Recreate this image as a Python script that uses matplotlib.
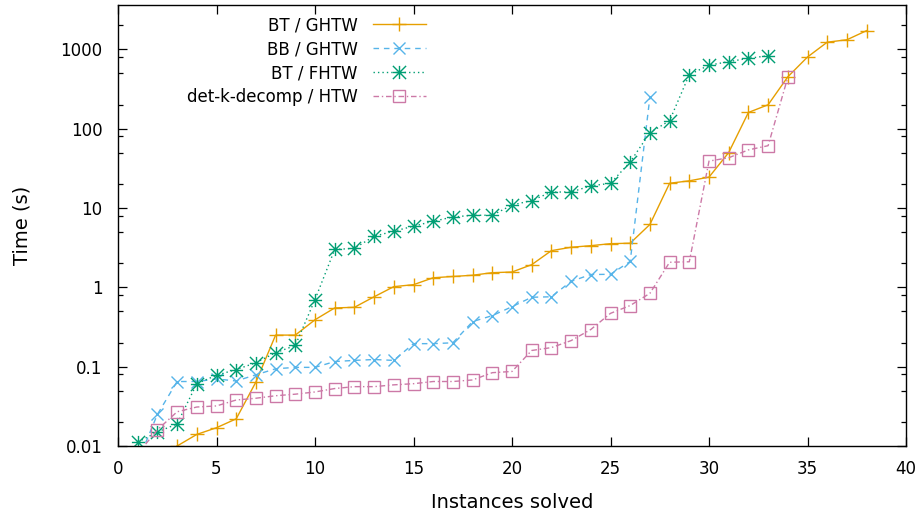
import matplotlib
matplotlib.use("Agg")
import matplotlib.pyplot as plt
from matplotlib.path import Path
from matplotlib.ticker import FixedLocator, LogLocator, NullFormatter, NullLocator

# ---------------- data ----------------
bt_ghtw_x = list(range(3, 39))
bt_ghtw_y = [0.010, 0.014, 0.017, 0.022, 0.064, 0.25, 0.25, 0.39, 0.55, 0.56,
             0.76, 1.02, 1.08, 1.32, 1.37, 1.42, 1.53, 1.56, 1.93, 2.9,
             3.2, 3.35, 3.55, 3.6, 6.2, 20.5, 22, 24.5, 50, 160,
             200, 450, 800, 1230, 1320, 1720]

bb_ghtw_x = list(range(1, 28))
bb_ghtw_y = [0.0063, 0.025, 0.065, 0.065, 0.07, 0.066, 0.079, 0.094, 0.098, 0.098,
             0.116, 0.12, 0.123, 0.12, 0.195, 0.195, 0.2, 0.37, 0.44, 0.57,
             0.75, 0.76, 1.19, 1.45, 1.46, 2.12, 250]

bt_fhtw_x = list(range(1, 34))
bt_fhtw_y = [0.0112, 0.015, 0.019, 0.061, 0.078, 0.092, 0.112, 0.15, 0.185, 0.70,
             3.0, 3.1, 4.4, 5.1, 5.9, 6.8, 7.7, 8.1, 8.1, 10.9,
             12.4, 15.9, 15.9, 19, 20.5, 38, 89, 126, 480, 630,
             700, 770, 830]

detk_x = list(range(1, 35))
detk_y = [0.008, 0.016, 0.027, 0.031, 0.032, 0.038, 0.040, 0.043, 0.045, 0.048,
          0.053, 0.056, 0.056, 0.059, 0.061, 0.065, 0.065, 0.068, 0.084, 0.087,
          0.16, 0.174, 0.213, 0.294, 0.47, 0.59, 0.84, 2.07, 2.1, 39,
          43, 54, 61, 443]

labels = ["BT / GHTW", "BB / GHTW", "BT / FHTW", "det-k-decomp / HTW"]
ytick_vals = [0.01, 0.1, 1, 10, 100, 1000]
ytick_labels = ["0.01", "0.1", "1", "10", "100", "1000"]
xtick_vals = [0, 5, 10, 15, 20, 25, 30, 35, 40]

# ---------------- style ----------------
plt.rcParams['font.family'] = ['DejaVu Sans']
plt.rcParams['font.size'] = 12

W, H = 923, 517
fig = plt.figure(figsize=(W / 100, H / 100), dpi=100)
ax = fig.add_axes([118 / W, 1 - 446 / H, (906 - 118) / W, (446 - 5) / H])

# gnuplot-like asterisk marker (plus + cross)
star_path = Path(
    [(-1, 0), (1, 0), (0, -1), (0, 1), (-1, -1), (1, 1), (-1, 1), (1, -1)],
    [Path.MOVETO, Path.LINETO] * 4)

c_or, c_bl, c_gr, c_pk = "#E69F00", "#56B4E9", "#009E73", "#CC79A7"
lw = 1.0

ax.plot(bt_ghtw_x, bt_ghtw_y, color=c_or, lw=lw, ls='-', marker='+',
        markersize=9.5, markeredgewidth=1.0, label=labels[0])
ax.plot(bb_ghtw_x, bb_ghtw_y, color=c_bl, lw=lw, dashes=(4.0, 3.5), marker='x',
        markersize=8.5, markeredgewidth=1.0, label=labels[1])
ax.plot(bt_fhtw_x, bt_fhtw_y, color=c_gr, lw=lw, dashes=(1.0, 2.2), marker=star_path,
        markersize=9.5, markeredgewidth=1.0, label=labels[2])
ax.plot(detk_x, detk_y, color=c_pk, lw=lw, dashes=(4.0, 2.0, 1.0, 2.0), marker='s',
        markersize=8, markeredgewidth=1.0, markerfacecolor='none', label=labels[3])

ax.set_yscale('log')
ax.set_xlim(0, 40)
ax.set_ylim(0.01, 3620)

ax.yaxis.set_major_locator(FixedLocator(ytick_vals))
ax.set_yticklabels(ytick_labels)
ax.yaxis.set_minor_locator(LogLocator(base=10, subs=[2, 5, 8]))
ax.yaxis.set_minor_formatter(NullFormatter())
ax.set_xticks(xtick_vals)
ax.xaxis.set_minor_locator(NullLocator())

ax.tick_params(which='both', direction='in', top=True, right=True, colors='black')
ax.tick_params(which='major', length=6.5, width=0.9)
ax.tick_params(which='minor', length=3.6, width=0.9)
ax.tick_params(axis='x', which='major', pad=10)
ax.tick_params(axis='y', which='major', pad=11)

for s in ax.spines.values():
    s.set_linewidth(1.0)
    s.set_color('black')

ax.set_xlabel("Instances solved", labelpad=11, fontsize=14)
ax.set_ylabel("Time (s)", labelpad=21, fontsize=14)

leg = ax.legend(loc='upper right', bbox_to_anchor=(426 / W, 1 - 16 / H),
                bbox_transform=fig.transFigure, frameon=False, markerfirst=False,
                borderpad=0, borderaxespad=0, labelspacing=0.36,
                handlelength=3.2, handletextpad=0.9, fontsize=12)

fig.savefig("out.png", dpi=100)
